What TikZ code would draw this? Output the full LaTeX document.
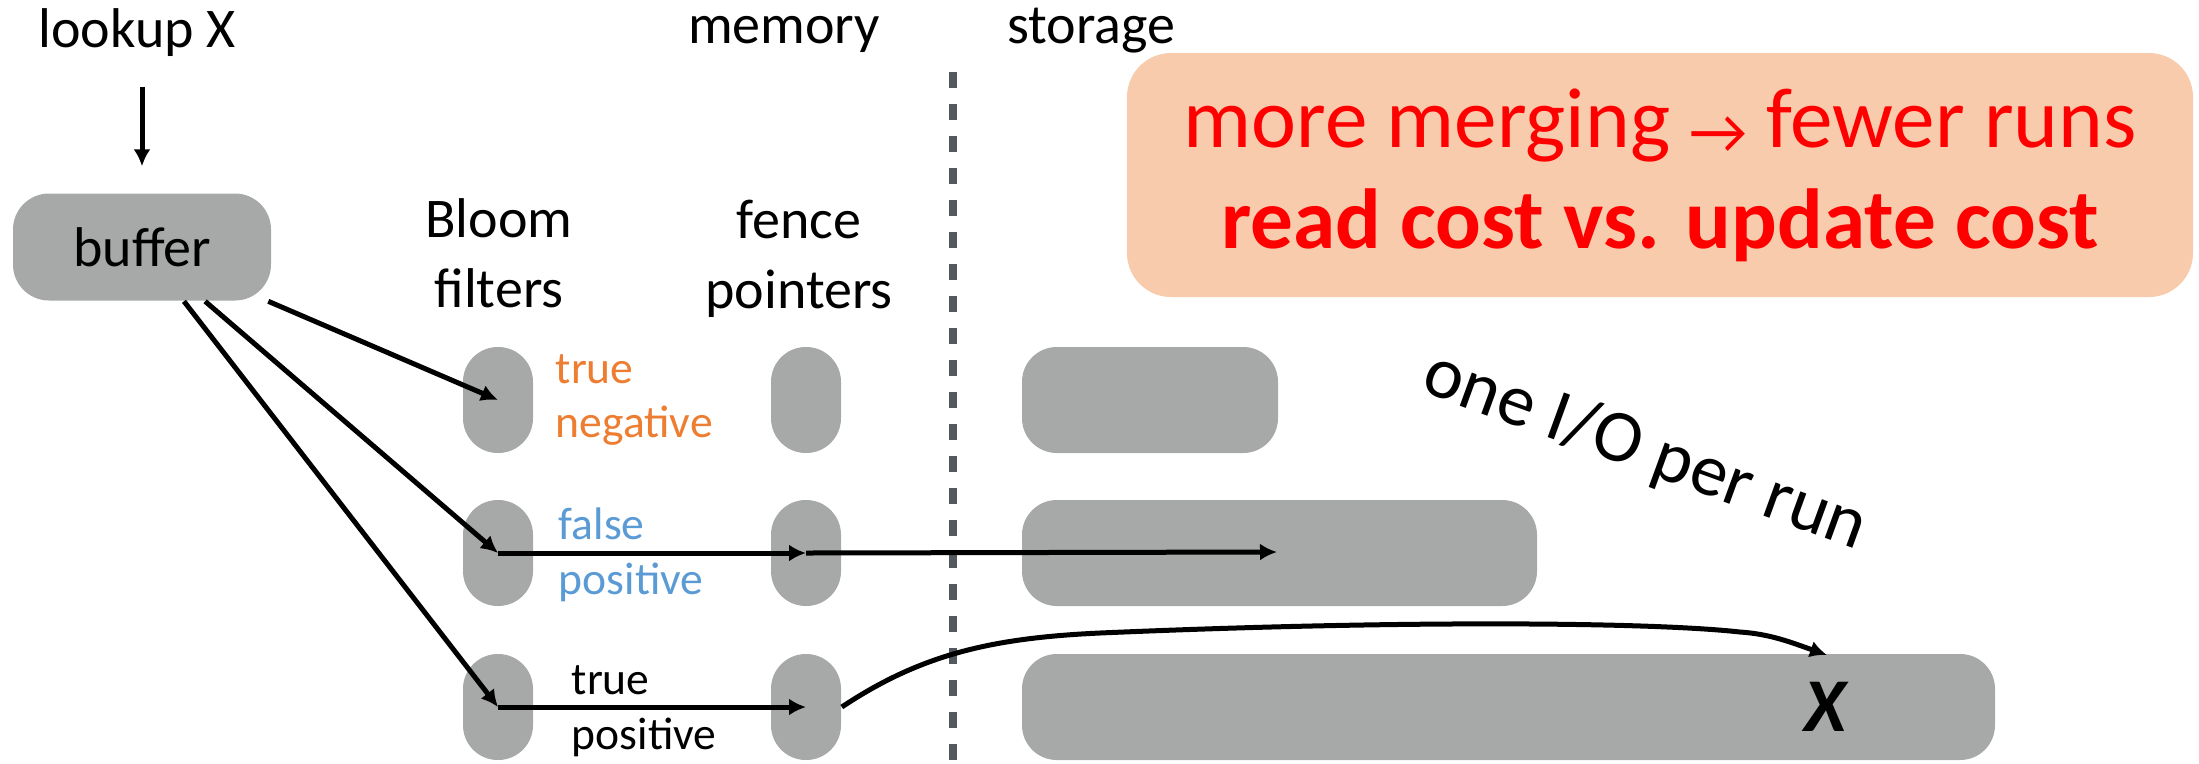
\documentclass[tikz,border=0pt]{standalone}
\usepackage{fontspec}
\setmainfont{Carlito}
\usetikzlibrary{arrows.meta}
\definecolor{run_grey}{RGB}{166,169,168}
\definecolor{note_peach}{RGB}{248,203,173}
\definecolor{tn_orange}{RGB}{237,125,49}
\definecolor{fp_blue}{RGB}{91,155,213}
\definecolor{sep_grey}{RGB}{84,88,95}
\tikzstyle{buf}=[rectangle,rounded corners=9pt,fill=run_grey,
  minimum width=64.5pt,minimum height=26.75pt,inner sep=0pt,font=\fontsize{14}{17.5}\selectfont]
\tikzstyle{pill}=[rectangle,rounded corners=8.7pt,fill=run_grey,
  minimum width=17.5pt,minimum height=26.5pt,inner sep=0pt]
\tikzstyle{run}=[rectangle,rounded corners=8.7pt,fill=run_grey,
  minimum height=26.5pt,inner sep=0pt]
\tikzstyle{note}=[rectangle,rounded corners=11pt,fill=note_peach,
  minimum width=266.5pt,minimum height=61pt,inner sep=0pt,align=center,text=red,
  font=\fontsize{21.3}{25.25}\selectfont]
\tikzstyle{head}=[inner sep=0pt,anchor=base,font=\fontsize{14}{17.5}\selectfont]
\tikzstyle{col}=[inner sep=0pt,align=center,font=\fontsize{14}{17.5}\selectfont]
\tikzstyle{lbl}=[inner sep=0pt,align=left,anchor=west,font=\fontsize{11.4}{13.7}\selectfont]
\tikzstyle{arr}=[line width=1.25pt,-{Latex[length=4.25pt,width=4.25pt]}]
\tikzstyle{none}=[]

\begin{document}
\begin{tikzpicture}[x=0.25pt,y=-0.25pt]
	\useasboundingbox (0,0) rectangle (2199,763);
		\node [style=head] (0) at (137, 47) {lookup X};
		\node [style=head] (1) at (784, 43) {memory};
		\node [style=head] (2) at (1091, 43) {storage};
		\node [style=buf] (3) at (142, 247) {buffer};
		\node [style=col] (4) at (499, 253) {Bloom\\filters};
		\node [style=col] (5) at (799, 259) {fence\\pointers};
		% filters and fence pointers, one pair per run
		\node [style=pill] (6) at (498, 400) {};
		\node [style=pill] (7) at (498, 553) {};
		\node [style=pill] (8) at (498, 707) {};
		\node [style=pill] (9) at (806, 400) {};
		\node [style=pill] (10) at (806, 553) {};
		\node [style=pill] (11) at (806, 707) {};
		\node [style=lbl, text=tn_orange] (12) at (555, 400) {true\\negative};
		\node [style=lbl, text=fp_blue] (13) at (558, 555) {false\\positive};
		\node [style=lbl] (14) at (571, 711) {true\\positive};
		% runs on storage
		\node [style=run, minimum width=64pt] (15) at (1150, 400) {};
		\node [style=run, minimum width=128.75pt] (16) at (1279.5, 553) {};
		\node [style=run, minimum width=243.25pt] (17) at (1508.5, 707) {};
		\node [style=none, inner sep=0pt, font=\fontsize{19}{23}\selectfont\bfseries\itshape] (18) at (1825, 707) {X};
		\node [style=none, inner sep=0pt, rotate=-20, font=\fontsize{18.5}{22}\selectfont] (19) at (1645, 452) {one I/O per run};
		\node [style=note] (20) at (1660, 175) {more merging \raisebox{-1.5pt}{\fontsize{16}{16}\selectfont →} fewer runs\\\textbf{read cost vs. update cost}};
		\coordinate (21) at (1277, 552);
		\coordinate (22) at (1827, 655);
		\draw [sep_grey, line width=2pt, dash pattern=on 4pt off 4pt] (953, 72) -- (953, 763);
		\draw [style=arr, shorten <=7.5pt, shorten >=6.6pt] (3.north |- 0.south) to (3.north);
		\draw [style=arr] (3) to (6.center);
		\draw [style=arr] (3) to (7.center);
		\draw [style=arr] (3) to (8.center);
		\draw [style=arr] (7.center) to (10.center);
		\draw [style=arr] (10.center) to (21);
		\draw [style=arr] (8.center) to (11.center);
		\draw [style=arr] (11.east) .. controls (920, 655) and (990, 638) .. (1100, 633)
			.. controls (1400, 620) and (1650, 622) .. (1740, 632)
			.. controls (1770, 634) and (1790, 642) .. (22);
\end{tikzpicture}
\end{document}
